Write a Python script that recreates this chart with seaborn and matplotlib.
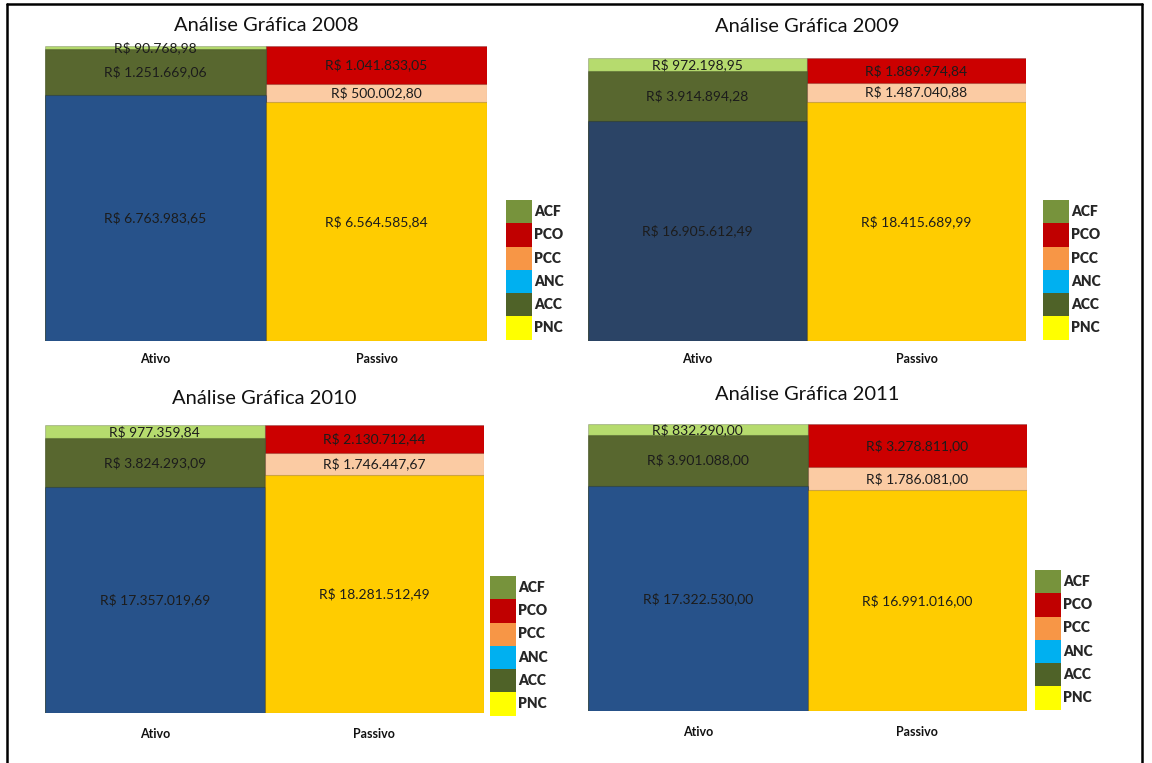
import matplotlib
matplotlib.use("Agg")
import matplotlib.pyplot as plt
from matplotlib.patches import Patch
from matplotlib.lines import Line2D
import seaborn as sns
import pandas as pd

sns.set_style("white")
plt.rcParams['font.family'] = ['Lato', 'DejaVu Sans']

# ---- data ----
years = ["2008", "2009", "2010", "2011"]
categories = ["Ativo", "Passivo"]
# Ativo components (bottom -> top)
anc = [6763983.65, 16905612.49, 17357019.69, 17322530.00]
acc = [1251669.06, 3914894.28, 3824293.09, 3901088.00]
acf = [90768.98, 972198.95, 977359.84, 832290.00]
# Passivo components (bottom -> top)
pnc = [6564585.84, 18415689.99, 18281512.49, 16991016.00]
pcc = [500002.80, 1487040.88, 1746447.67, 1786081.00]
pco = [1041833.05, 1889974.84, 2130712.44, 3278811.00]

legend_labels = ["ACF", "PCO", "PCC", "ANC", "ACC", "PNC"]
legend_colors = ["#77933C", "#C00000", "#F79646", "#00B0F0", "#4F6228", "#FFFF00"]

# bar fill colours
anc_colors = ["#27528A", "#2B4466", "#27528A", "#27528A"]
acc_color = "#58672F"
acf_color = "#B6DB6E"
pnc_color = "#FFCC00"
pcc_color = "#FBCBA3"
pco_color = "#CC0000"

def brl(v):
    s = f"{v:,.2f}"
    s = s.replace(",", "X").replace(".", ",").replace("X", ".")
    return "R$ " + s

fig = plt.figure(figsize=(11.52, 7.63), dpi=100)

# axes rectangles [left, bottom, width, height] in figure fractions
rects = [
    [45/1152, 1-341/763, 442/1152, 295/763],
    [588/1152, 1-341/763, 438/1152, 283/763],
    [45/1152, 1-713/763, 439/1152, 288/763],
    [588/1152, 1-711/763, 439/1152, 287/763],
]
title_pads = [11, 19, 15, 17]
legend_pos = [(506/1152, 1-200/763), (1043/1152, 1-200/763),
              (490/1152, 1-576/763), (1035/1152, 1-570/763)]
tick_pads = [9, 9, 11, 11]

for i, yr in enumerate(years):
    ax = fig.add_axes(rects[i])
    a_layers = [anc[i], acc[i], acf[i]]
    p_layers = [pnc[i], pcc[i], pco[i]]
    a_cols = [anc_colors[i], acc_color, acf_color]
    p_cols = [pnc_color, pcc_color, pco_color]
    a_cum = [sum(a_layers[:k+1]) for k in range(3)]
    p_cum = [sum(p_layers[:k+1]) for k in range(3)]
    for k in [2, 1, 0]:
        df = pd.DataFrame({"cat": categories, "val": [a_cum[k], p_cum[k]]})
        sns.barplot(data=df, x="cat", y="val", hue="cat",
                    palette={"Ativo": a_cols[k], "Passivo": p_cols[k]},
                    width=1.0, saturation=1, legend=False, ax=ax,
                    edgecolor="#00000030", linewidth=0.8)
    # value labels
    for xi, (layers, cum) in enumerate([(a_layers, a_cum), (p_layers, p_cum)]):
        for k in range(3):
            bottom = cum[k] - layers[k]
            ax.text(xi, bottom + layers[k] / 2, brl(layers[k]),
                    ha="center", va="center", fontsize=10, color="#1c1c1c")
    total = max(a_cum[2], p_cum[2])
    ax.set_xlim(-0.5, 1.5)
    ax.set_ylim(0, total)
    ax.set_xlabel("")
    ax.set_ylabel("")
    ax.set_yticks([])
    ax.tick_params(axis="x", length=0, pad=tick_pads[i])
    for lab in ax.get_xticklabels():
        lab.set_fontweight("bold")
        lab.set_fontsize(9)
        lab.set_color("#111111")
    sns.despine(ax=ax, left=True, bottom=True)
    ax.set_title(f"Análise Gráfica {yr}", fontsize=14.5, pad=title_pads[i], color="#111111")

    handles = [Patch(facecolor=c, edgecolor="none") for c in legend_colors]
    fig.legend(handles, legend_labels, loc="upper left", bbox_to_anchor=legend_pos[i],
               frameon=False, borderpad=0, borderaxespad=0, labelspacing=0,
               handlelength=1.9, handleheight=2.2, handletextpad=0.12,
               prop={"weight": "heavy", "size": 10})

# outer frame (left, top, right)
lw = 1.8
fig.add_artist(Line2D([7/1152, 7/1152], [0, 1-4/763], transform=fig.transFigure, color="black", lw=lw))
fig.add_artist(Line2D([7/1152, 1142/1152], [1-4/763, 1-4/763], transform=fig.transFigure, color="black", lw=lw))
fig.add_artist(Line2D([1142/1152, 1142/1152], [0, 1-4/763], transform=fig.transFigure, color="black", lw=lw))

fig.savefig("out.png", dpi=100)
